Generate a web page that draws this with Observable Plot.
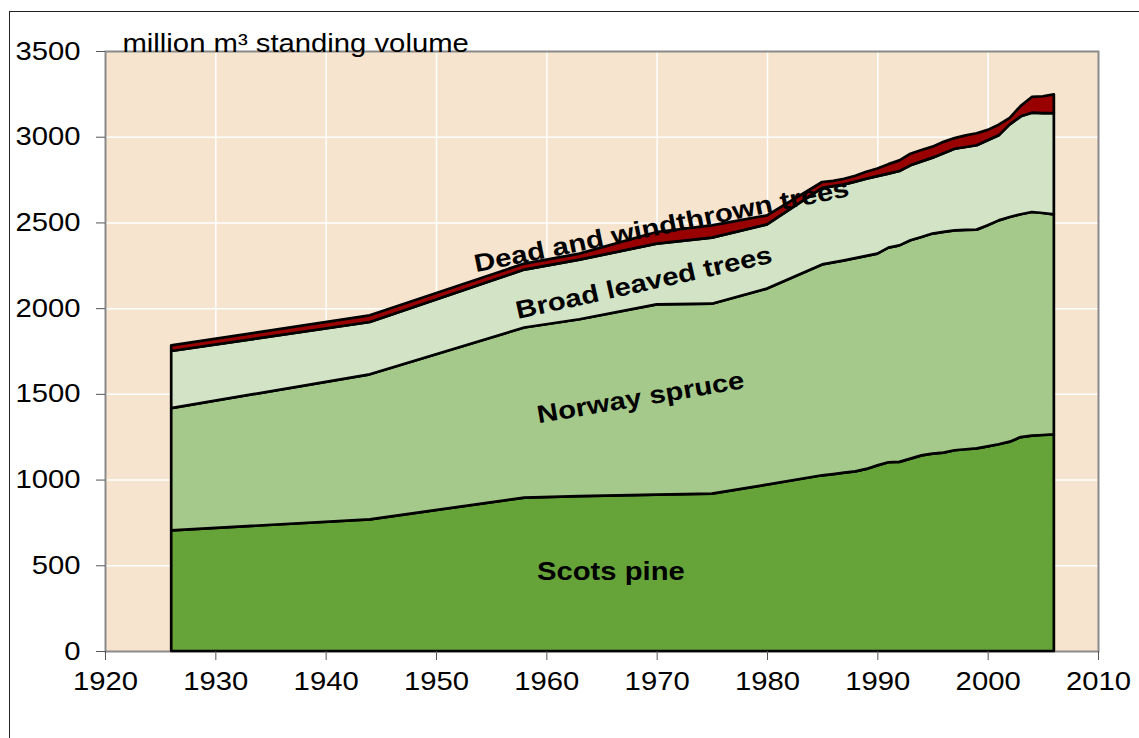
<!DOCTYPE html>
<html><head><meta charset="utf-8">
<script src="https://cdn.jsdelivr.net/npm/d3@7"></script>
<script src="https://cdn.jsdelivr.net/npm/@observablehq/plot@0.6"></script>
<style>
body{margin:0;background:#fff;}
#wrap{position:relative;width:1139px;height:738px;overflow:hidden;background:#fff;}
#frame{position:absolute;left:9px;top:11px;width:1300px;height:900px;border-left:1.5px solid #222;border-top:1.5px solid #222;}
#wrap svg{position:absolute;left:0;top:0;}
</style></head><body><div id="wrap"><div id="frame"></div></div>
<script>
const years = [1926,1944,1958,1963,1970,1975,1980,1985,1986,1987,1988,1989,1990,1991,1992,1993,1994,1995,1996,1997,1998,1999,2000,2001,2002,2003,2004,2005,2006];
const scotsPine = [704,768,895,903,912,918,971,1025,1032,1040,1048,1062,1083,1101,1103,1122,1141,1151,1157,1171,1177,1182,1194,1206,1221,1248,1256,1260,1264];
const norwaySpruce = [713,846,992,1032,1110,1108,1143,1230,1235,1239,1244,1243,1235,1252,1263,1274,1274,1284,1288,1283,1279,1276,1289,1306,1311,1300,1305,1295,1283];
const broadLeaved = [333,305,338,348,354,385,375,447,445,443,446,450,452,432,434,437,441,443,459,476,484,492,496,496,540,571,579,583,591];
const deadWindthrown = [33,39,35,35,68,72,52,34,30,33,34,41,45,55,62,68,66,64,66,62,68,70,61,62,38,61,92,98,109];

const species = ["Scots pine","Norway spruce","Broad leaved trees","Dead and windthrown trees"];
const colors = ["#66A43A","#A5C98A","#D2E4C5","#990000"];
const xTicks = [1920,1930,1940,1950,1960,1970,1980,1990,2000,2010];
const yTicks = [0,500,1000,1500,2000,2500,3000,3500];
const yTitle = "million m³ standing volume";

const labelText = ["Scots pine","Norway spruce","Broad leaved trees","Dead and windthrown trees"];
const labelYear = [1965.8,1968.5,1968.8,1970.4];
const labelValue = [465,1480,2150,2480];
const labelAngle = [0,-9.7,-12.5,-11.5];

const seriesValues = [scotsPine, norwaySpruce, broadLeaved, deadWindthrown];
const rows = [];
species.forEach((s, i) => years.forEach((y, j) => rows.push({year: y, species: s, value: seriesValues[i][j]})));
const labels = labelText.map((t, i) => ({text: t, year: labelYear[i], value: labelValue[i], angle: labelAngle[i]}));

const chart = Plot.plot({
  width: 1139, height: 738,
  marginLeft: 105, marginRight: 41, marginTop: 51, marginBottom: 87,
  style: {fontFamily: "'Liberation Sans', Arial, sans-serif", fontSize: "25px", background: "transparent", overflow: "visible", color: "#000"},
  x: {domain: [1920, 2010], label: null},
  y: {domain: [0, 3500], label: null},
  color: {domain: species, range: colors},
  marks: [
    Plot.frame({fill: "#F7E4CE"}),
    Plot.gridX(xTicks.slice(1, -1), {stroke: "#fff", strokeOpacity: 1, strokeWidth: 1.5}),
    Plot.gridY(yTicks.slice(1, -1), {stroke: "#fff", strokeOpacity: 1, strokeWidth: 1.5}),
    Plot.frame({stroke: "#8a8a8a", strokeWidth: 2}),
    Plot.areaY(rows, {x: "year", y: "value", fill: "species", z: "species", order: species, stroke: "#000", strokeWidth: 2.7, strokeLinejoin: "round"}),
    Plot.axisX(xTicks, {tickSize: 9, tickPadding: 12, tickFormat: d => String(d), label: null, stroke: "#555", fontSize: 25}),
    Plot.axisY(yTicks, {tickSize: 9, tickPadding: 16, tickFormat: d => String(d), label: null, stroke: "#555", fontSize: 25}),
    Plot.text(labels, {x: "year", y: "value", text: "text", rotate: "angle", fontWeight: "bold", fontSize: 25, fill: "#000", textAnchor: "middle", lineAnchor: "middle"}),
    Plot.text([yTitle], {text: d => d, frameAnchor: "top-left", dx: 17, dy: 0, lineAnchor: "bottom", textAnchor: "start", fontSize: 25, fill: "#000"})
  ]
});
document.getElementById("wrap").appendChild(chart);
// the reference text is horizontally widened Arial; stretch each label a little
chart.querySelectorAll("text").forEach(t => {
  const L = t.getComputedTextLength();
  if (L > 0) {
    t.setAttribute("textLength", (L * 1.17).toFixed(1));
    t.setAttribute("lengthAdjust", "spacingAndGlyphs");
  }
});
</script>
</body></html>
